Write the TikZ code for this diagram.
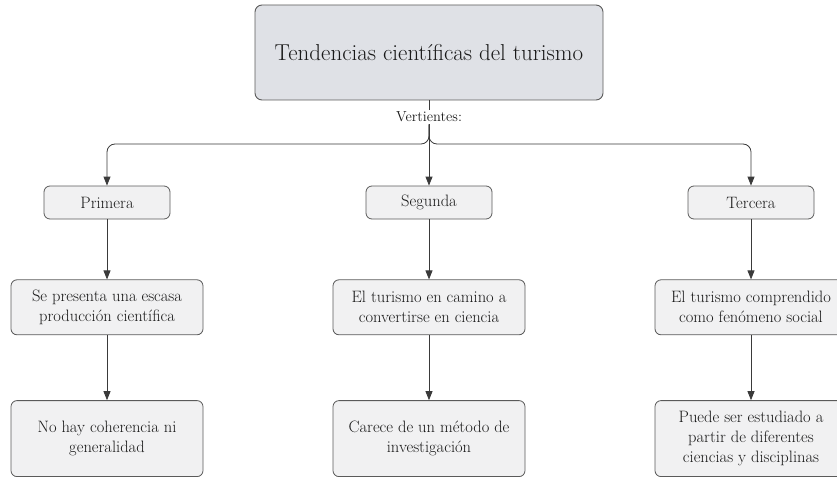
\documentclass[tikz,border=0pt]{standalone}
\usetikzlibrary{arrows.meta,positioning}
\definecolor{boxgray}{HTML}{F1F1F2}
\definecolor{titlegray}{HTML}{DFE1E6}
\definecolor{edgegray}{HTML}{5A5A5A}
\definecolor{linegray}{HTML}{3A3A3A}

\begin{document}
\begin{tikzpicture}[x=1pt,y=-1pt]
    \tikzstyle{titlebox}=[draw=edgegray, fill=titlegray, rounded corners=7pt, line width=0.9pt, minimum width=348pt, minimum height=95pt, font=\fontsize{23}{27}\selectfont, text=black!90]
    \tikzstyle{stagebox}=[draw=edgegray, fill=boxgray, rounded corners=6pt, line width=0.8pt, minimum width=126pt, minimum height=33pt, align=center, text=black!90, font=\fontsize{16.5}{20}\selectfont]
    \tikzstyle{textbox}=[stagebox, minimum width=192pt, minimum height=55pt]
    \tikzstyle{notebox}=[textbox, minimum height=76pt]
    \tikzstyle{link}=[draw=linegray, line width=0.8pt, -{Triangle[length=9pt,width=7pt]}]
    \clip (0,0) rectangle (837,476);
    % title and label
    \node[titlebox] (title) at (429,52.5) {Tendencias científicas del turismo};
    \node[font=\fontsize{14.5}{17}\selectfont, text=black!90, inner sep=2pt] (vert) at (429,117) {Vertientes:};
    \coordinate (bar) at (429,144);
    % three branches
    \node[stagebox] (primera) at (107,202.5) {Primera};
    \node[stagebox] (segunda) at (429,202.5) {Segunda};
    \node[stagebox] (tercera) at (751,202.5) {Tercera};
    \node[textbox, below=60pt of primera] (escasa) {Se presenta una escasa\\producción científica};
    \node[textbox, below=60pt of segunda] (camino) {El turismo en camino a\\convertirse en ciencia};
    \node[textbox, below=60pt of tercera] (social) {El turismo comprendido\\como fenómeno social};
    \node[notebox, below=65pt of escasa] (coherencia) {No hay coherencia ni\\generalidad};
    \node[notebox, below=65pt of camino] (metodo) {Carece de un método de\\investigación};
    \node[notebox, below=65pt of social] (disciplinas) {Puede ser estudiado a\\partir de diferentes\\ciencias y disciplinas};
    % connectors
    \draw[draw=linegray, line width=0.8pt] (title) -- (vert);
    \draw[link] (vert) -- (segunda);
    \draw[link, rounded corners=8pt] (vert.south) -- (bar) -| (primera);
    \draw[link, rounded corners=8pt] (vert.south) -- (bar) -| (tercera);
    \draw[link] (primera) -- (escasa);
    \draw[link] (segunda) -- (camino);
    \draw[link] (tercera) -- (social);
    \draw[link] (escasa) -- (coherencia);
    \draw[link] (camino) -- (metodo);
    \draw[link] (social) -- (disciplinas);
\end{tikzpicture}
\end{document}
